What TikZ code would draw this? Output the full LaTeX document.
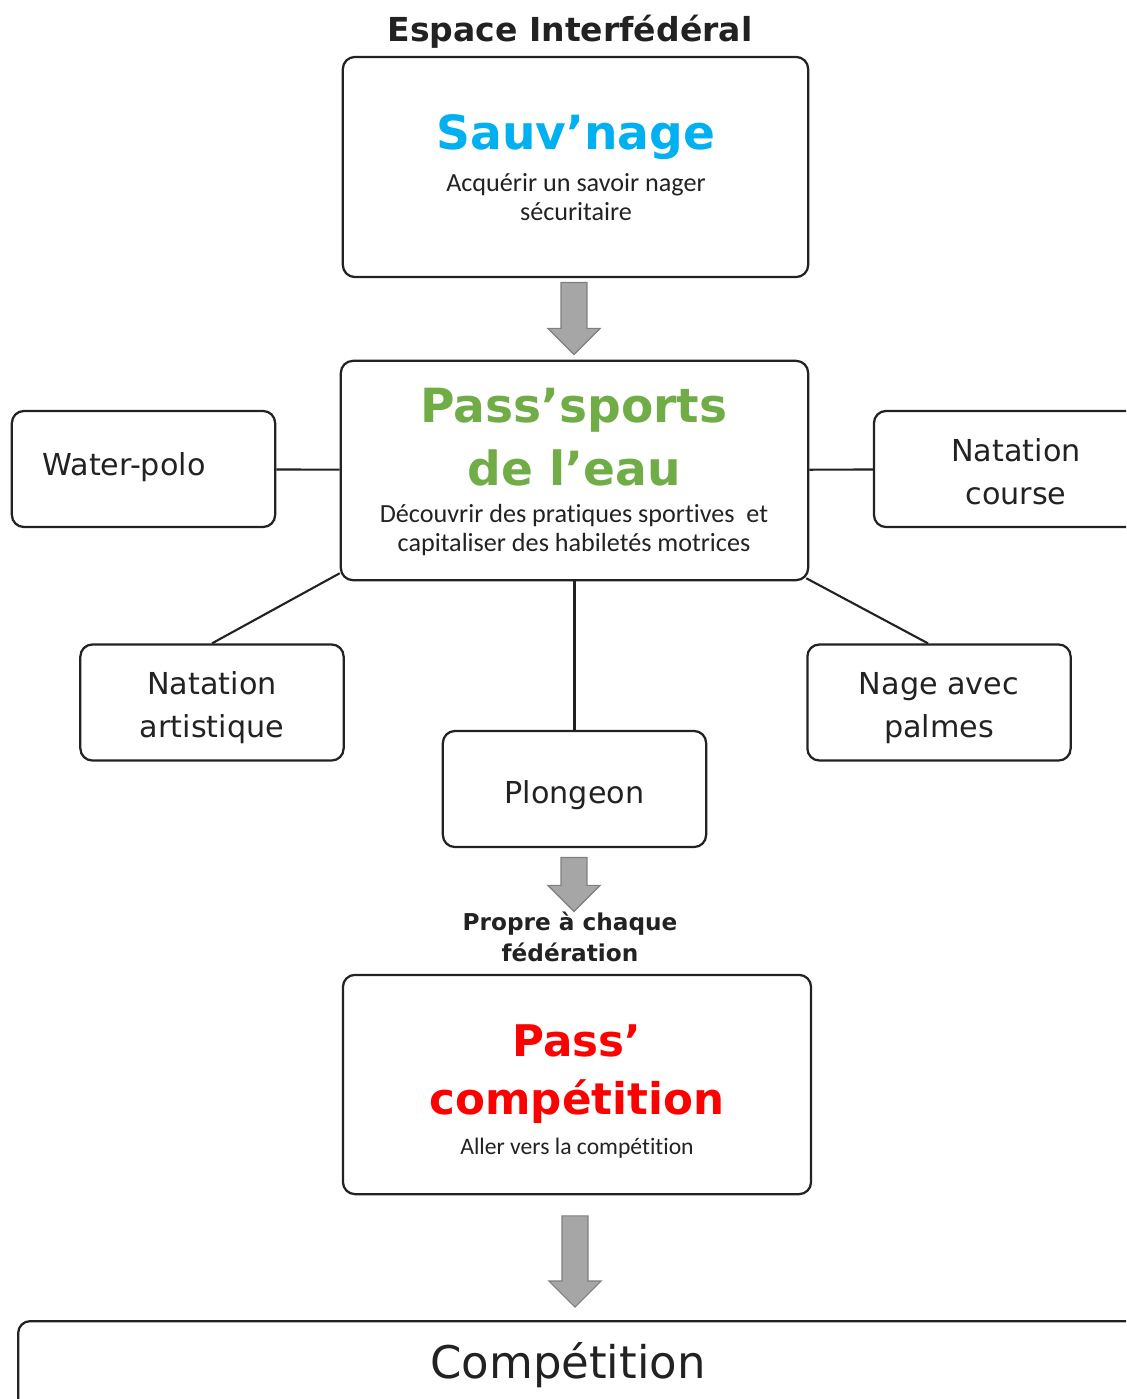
\documentclass[tikz,border=0pt]{standalone}
\usepackage{fontspec}
\setmainfont{DejaVu Sans}
\newfontfamily\calibri[Ligatures=NoCommon]{Carlito}
\usetikzlibrary{shapes.arrows,calc}

\definecolor{bleu}{HTML}{00B0F0}
\definecolor{vert}{HTML}{70AD47}
\definecolor{rouge}{HTML}{FF0000}
\definecolor{encre}{HTML}{222222}
\definecolor{flechegris}{HTML}{A6A6A6}
\definecolor{flechebord}{HTML}{7F7F7F}

\tikzset{
	boite/.style={draw=encre, line width=1.6pt, rounded corners=0.3cm, inner sep=0pt},
	petit/.style={boite, minimum width=6.58cm, minimum height=2.9cm},
	nom/.style={font=\fontsize{21.5}{30.5}\selectfont, text=encre, align=center, text height=20pt, text depth=0pt},
	nomdeux/.style={nom, text height=50pt},
	titre/.style={font=\bfseries\fontsize{33.5}{45}\selectfont, align=center},
	soustitre/.style={font=\calibri\fontsize{18.6}{20.5}\selectfont, text=encre, align=center},
	lien/.style={draw=encre, line width=1.5pt},
	fleche/.style={single arrow, draw=flechebord, fill=flechegris, line width=0.8pt, rotate=-90,
		inner xsep=0pt, inner ysep=0.31cm, single arrow head extend=0.33cm}
}

\begin{document}
\begin{tikzpicture}[x=0.025cm, y=-0.025cm]
		\clip (0,0) rectangle (1126,1399);
		
		\node[font=\bfseries\fontsize{23.5}{28}\selectfont, text=encre] (espace) at (570,32) {Espace Interfédéral};
		
		% les trois grandes boites
		\node[boite, minimum width=11.63cm, minimum height=5.5cm] (sauv) at (575.5,167) {};
		\node[titre, text=bleu] (sauvT) at (576,137) {Sauv’nage};
		\node[soustitre] (sauvS) at (576,197) {Acquérir un savoir nager\\sécuritaire};
		
		\node[boite, minimum width=11.68cm, minimum height=5.48cm] (pass) at (574.5,470.5) {};
		\node[titre, text=vert] (passT) at (574,437) {Pass’sports\\de l’eau};
		\node[soustitre] (passS) at (574,530) {Découvrir des pratiques sportives~ et\\capitaliser des habiletés motrices};
		
		\node[boite, minimum width=11.7cm, minimum height=5.48cm] (compet) at (577,1084.5) {};
		\node[titre, text=rouge, font=\bfseries\fontsize{31}{41}\selectfont] (competT) at (577,1074) {Pass’\\compétition};
		\node[soustitre, font=\calibri\fontsize{16.8}{18}\selectfont] (competS) at (577,1148) {Aller vers la compétition};
		
		% les disciplines
		\node[petit] (wp) at (143.5,469) {};
		\node[nom] (wpT) at (124,461) {Water-polo};
		\node[petit, nomdeux, minimum width=7.1cm] (course) at (1016,469) {Natation\\course};
		\node[petit, nomdeux] (artist) at (212,702.5) {Natation\\artistique};
		\node[petit, nomdeux] (palmes) at (939,702.5) {Nage avec\\palmes};
		\node[petit, nom] (plong) at (574.5,789) {Plongeon};
		
		\draw[lien] (wp) -- (pass);
		\draw[lien] (pass) -- (course);
		\draw[lien] (pass) -- (plong);
		\draw[lien] ($(pass.south west)+(0,-8)$) -- (artist.north);
		\draw[lien] ($(pass.south east)+(-3,-3)$) -- ($(palmes.north)+(-11,0)$);
		
		% fleches
		\node[fleche, minimum height=1.8cm] (f1) at (574,312) {};
		\node[fleche, minimum height=1.35cm] (f2) at (574,878) {};
		\node[font=\bfseries\fontsize{16.5}{22}\selectfont, text=encre, align=center] (propre) at (570,937) {Propre à chaque\\fédération};
		\node[fleche, minimum height=2.28cm] (f3) at (575,1255) {};
		
		\node[boite, minimum width=29cm, minimum height=3cm, anchor=north west] (competition) at (17,1320) {};
		\node[font=\fontsize{32}{38}\selectfont, text=encre] (competitionT) at (568,1365) {Compétition};
\end{tikzpicture}
\end{document}
